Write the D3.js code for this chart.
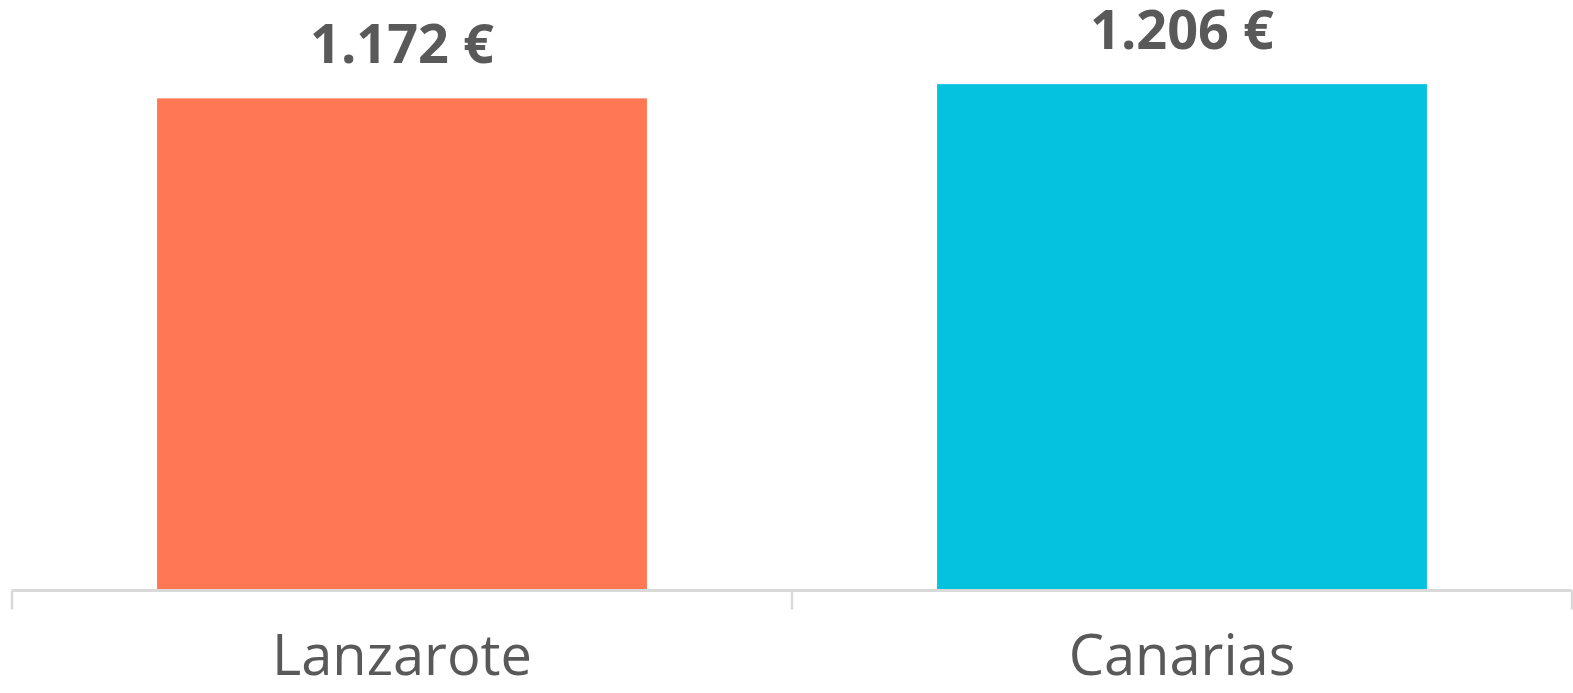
<!DOCTYPE html>
<html>
<head>
<meta charset="utf-8">
<script src="https://cdn.jsdelivr.net/npm/d3@7"></script>
<style>
  body { margin: 0; background: #fff; overflow: hidden; }
  svg { display: block; }
</style>
</head>
<body>
<svg width="1573" height="693"></svg>
<script>
//Data
const categories = ["Lanzarote", "Canarias"];
const values = [1172, 1206];
const valueLabels = ["1.172 €", "1.206 €"];
const colors = ["#FF7853", "#05C3DE"];

//Measuring data (in px)
let baseline = 589;
let left = 12;
let right = 1572;

let svg = d3.select("svg");

//Band scale for categories
let xScale = d3.scaleBand()
  .domain(categories)
  .range([left, right])
  .paddingInner(0.372)
  .paddingOuter(0.186);

//Linear scale for bar height
let yScale = d3.scaleLinear()
  .domain([0, 1407])
  .range([baseline, 0]);

//Bars
svg.append("g")
  .selectAll("rect")
  .data(values)
  .enter()
  .append("rect")
  .attr("x", (d, i) => xScale(categories[i]))
  .attr("y", d => yScale(d))
  .attr("width", xScale.bandwidth())
  .attr("height", d => baseline - yScale(d))
  .attr("fill", (d, i) => colors[i]);

//Value labels
svg.append("g")
  .selectAll("text")
  .data(values)
  .enter()
  .append("text")
  .attr("x", (d, i) => xScale(categories[i]) + xScale.bandwidth() / 2)
  .attr("y", d => yScale(d) - 35)
  .attr("text-anchor", "middle")
  .style("font-family", "'Open Sans', sans-serif")
  .style("font-weight", "bold")
  .style("font-size", "54px")
  .style("fill", "#595959")
  .text((d, i) => valueLabels[i]);

//X axis, ticks at category boundaries
let axis = svg.append("g")
  .attr("transform", `translate(0, ${baseline + 1.5})`);

axis.append("line")
  .attr("x1", left)
  .attr("x2", right)
  .attr("stroke", "#d9d9d9")
  .attr("stroke-width", 3);

let step = xScale.step();
let bounds = [left, left + step, right];
axis.selectAll(".tick")
  .data(bounds)
  .enter()
  .append("line")
  .attr("x1", d => d)
  .attr("x2", d => d)
  .attr("y1", 0)
  .attr("y2", 19)
  .attr("stroke", "#d9d9d9")
  .attr("stroke-width", 2.5);

axis.selectAll(".cat")
  .data(categories)
  .enter()
  .append("text")
  .attr("x", d => xScale(d) + xScale.bandwidth() / 2)
  .attr("y", 84)
  .attr("text-anchor", "middle")
  .style("font-family", "'Open Sans', sans-serif")
  .style("font-size", "56px")
  .style("fill", "#595959")
  .text(d => d);
</script>
</body>
</html>
